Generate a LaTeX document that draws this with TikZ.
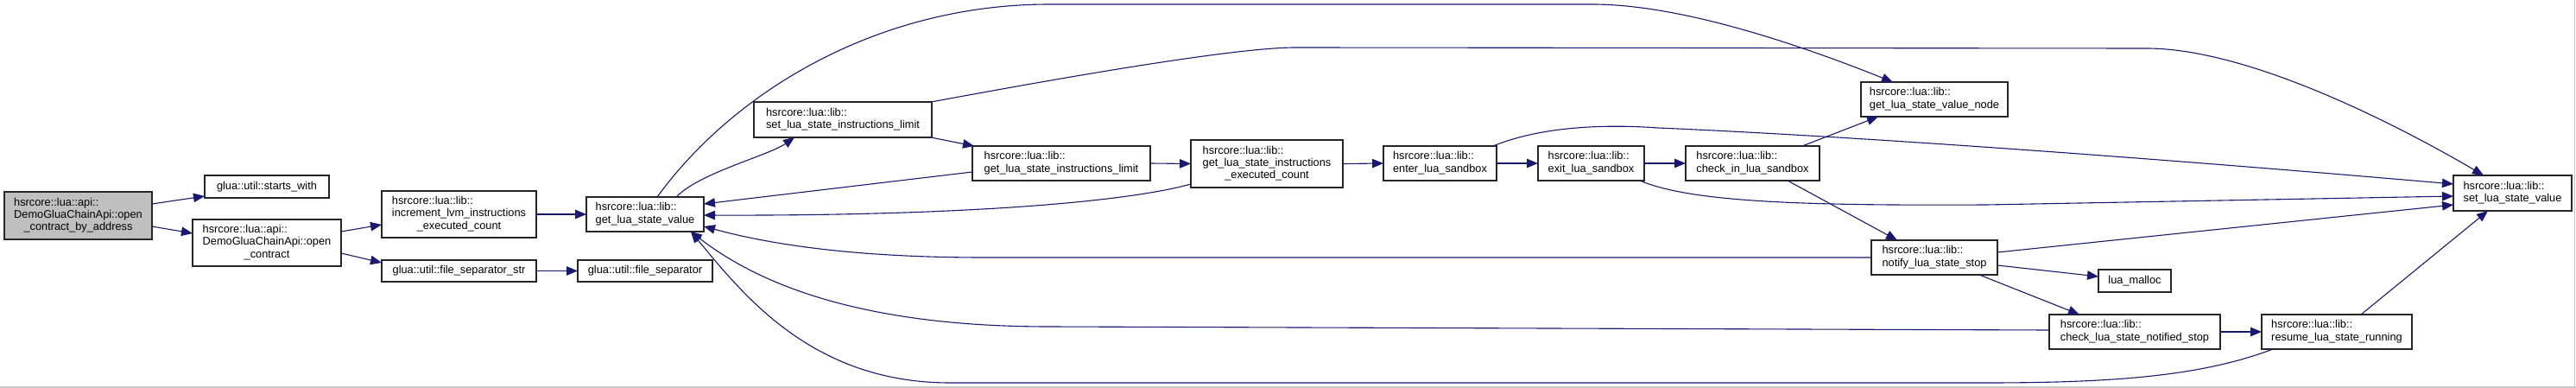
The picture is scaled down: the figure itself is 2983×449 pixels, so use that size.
\documentclass[tikz,border=0pt]{standalone}
\usepackage{fontspec}
\setmainfont{Liberation Sans}
\usetikzlibrary{arrows.meta,calc}
\definecolor{edgeblue}{RGB}{25,25,112}
\definecolor{nodegray}{RGB}{191,191,191}
\definecolor{framegray}{RGB}{200,200,200}
\newcommand{\twol}[2]{\begin{tabular}{@{}l@{}}#1\\#2\end{tabular}}
\newcommand{\threel}[3]{\begin{tabular}{@{}l@{}}#1\\#2\\\multicolumn{1}{@{}c@{}}{#3}\end{tabular}}
\begin{document}
\begin{tikzpicture}[x=1pt,y=-1pt,
  fnbox/.style={draw=black!85, line width=1.3pt, fill=white, rectangle,
    inner sep=0pt, outer sep=0pt, font=\fontsize{12.8}{14.3}\selectfont},
  rootbox/.style={fnbox, fill=nodegray},
  calledge/.style={draw=edgeblue, line width=1.1pt, -{Triangle[length=13pt,width=10.5pt]}},
]
\useasboundingbox[fill=white] (0,0) rectangle (2983,449);
\draw[framegray, line width=1.5pt] (2981.5,0) -- (2981.5,449);
\draw[framegray, line width=1.5pt] (0,448) -- (2983,448);

% nodes
\node[rootbox, minimum width=171, minimum height=55] (A) at (90.5,249.5)
  {\threel{hsrcore::lua::api::}{DemoGluaChainApi::open}{\_contract\_by\_address}};
\node[fnbox, minimum width=144, minimum height=26] (B) at (309,216)
  {glua::util::starts\_with};
\node[fnbox, minimum width=172, minimum height=54] (C) at (309,281)
  {\threel{hsrcore::lua::api::}{DemoGluaChainApi::open}{\_contract}};
\node[fnbox, minimum width=179, minimum height=54] (D) at (531.5,248)
  {\threel{hsrcore::lua::lib::}{increment\_lvm\_instructions}{\_executed\_count}};
\node[fnbox, minimum width=179, minimum height=25] (E) at (531.5,313.5)
  {glua::util::file\_separator\_str};
\node[fnbox, minimum width=136, minimum height=40] (F) at (747,248)
  {\twol{hsrcore::lua::lib::}{get\_lua\_state\_value}};
\node[fnbox, minimum width=156, minimum height=25] (G) at (747,313.5)
  {glua::util::file\_separator};
\node[fnbox, minimum width=206, minimum height=41] (H) at (976,138.5)
  {\twol{hsrcore::lua::lib::}{set\_lua\_state\_instructions\_limit}};
\node[fnbox, minimum width=206, minimum height=40] (I) at (1229,189)
  {\twol{hsrcore::lua::lib::}{get\_lua\_state\_instructions\_limit}};
\node[fnbox, minimum width=176, minimum height=55] (J) at (1467,189.5)
  {\threel{hsrcore::lua::lib::}{get\_lua\_state\_instructions}{\_executed\_count}};
\node[fnbox, minimum width=131, minimum height=40] (K) at (1667.5,189)
  {\twol{hsrcore::lua::lib::}{enter\_lua\_sandbox}};
\node[fnbox, minimum width=123, minimum height=40] (L) at (1842.5,189)
  {\twol{hsrcore::lua::lib::}{exit\_lua\_sandbox}};
\node[fnbox, minimum width=155, minimum height=40] (M) at (2029.5,189)
  {\twol{hsrcore::lua::lib::}{check\_in\_lua\_sandbox}};
\node[fnbox, minimum width=170, minimum height=40] (N) at (2240,115)
  {\twol{hsrcore::lua::lib::}{get\_lua\_state\_value\_node}};
\node[fnbox, minimum width=137, minimum height=41] (O) at (2909.5,223.5)
  {\twol{hsrcore::lua::lib::}{set\_lua\_state\_value}};
\node[fnbox, minimum width=146, minimum height=40] (P) at (2240,298)
  {\twol{hsrcore::lua::lib::}{notify\_lua\_state\_stop}};
\node[fnbox, minimum width=84, minimum height=26] (Q) at (2472,325)
  {lua\_malloc};
\node[fnbox, minimum width=198, minimum height=40] (R) at (2472,384)
  {\twol{hsrcore::lua::lib::}{check\_lua\_state\_notified\_stop}};
\node[fnbox, minimum width=174, minimum height=40] (S) at (2706,384)
  {\twol{hsrcore::lua::lib::}{resume\_lua\_state\_running}};

% edges
\draw[calledge] ($(A.north east)+(0,14)$) -- ($(B.south west)+(0,-2)$);
\draw[calledge] ($(A.north east)+(0,40)$) -- ($(C.north west)+(0,16)$);
\draw[calledge] ($(C.north east)+(0,14)$) -- ($(D.north west)+(0,39)$);
\draw[calledge] ($(C.north east)+(0,39)$) -- ($(E.north west)+(0,3)$);
\draw[calledge] (D.east) -- (F.west);
\draw[calledge] (E.east) -- (G.west);
\draw[calledge] ($(F.north west)+(104,0)$) .. controls (810,200) and (890,180) .. ($(H.south west)+(47,0)$);
\draw[calledge] ($(F.north west)+(82,0)$) .. controls (849,107) and (1015,5) .. (1215,5)
  -- (1844,5) .. controls (1950,5) and (2092,55) .. ($(N.north west)+(37,0)$);
\draw[calledge] ($(H.north east)+(-1,0)$) .. controls (1176,100) and (1420,55) .. (1500,55)
  -- (2486,56) .. controls (2600,56) and (2767,139) .. ($(O.north west)+(35,0)$);
\draw[calledge] ($(H.south east)+(-1,0)$) -- ($(I.north west)+(2,0)$);
\draw[calledge] ($(I.north west)+(0,30)$) -- ($(F.north east)+(0,8)$);
\draw[calledge] (I.east) -- (J.west);
\draw[calledge] ($(J.south west)+(0,-4)$) .. controls (1300,235) and (1100,250) .. ($(F.north east)+(0,21)$);
\draw[calledge] (J.east) -- (K.west);
\draw[calledge] (K.east) -- (L.west);
\draw[calledge] (L.east) -- (M.west);
\draw[calledge] ($(M.north west)+(135,0)$) -- ($(N.south west)+(20,0)$);
\draw[calledge] ($(K.north east)+(-4,0)$) .. controls (1780,148) and (1850,143) .. (1920,148)
  .. controls (2200,160) and (2600,192) .. ($(O.north west)+(0,10)$);
\draw[calledge] ($(L.south east)+(-5,0)$) .. controls (1960,235) and (2100,238) .. (2300,237)
  -- ($(O.north west)+(0,24)$);
\draw[calledge] ($(M.south west)+(118,0)$) -- ($(P.north west)+(30,0)$);
\draw[calledge] ($(P.north east)+(0,14)$) -- ($(O.north west)+(0,34)$);
\draw[calledge] ($(P.north east)+(0,29)$) -- ($(Q.north west)+(0,8)$);
\draw[calledge] ($(P.south west)+(125,0)$) -- ($(R.north west)+(35,0)$);
\draw[calledge] (P.west) -- (1140,298) .. controls (1000,298) and (900,285) .. ($(F.north east)+(0,34)$);
\draw[calledge] (R.east) -- (S.west);
\draw[calledge] ($(R.north west)+(0,18)$) -- (1215,378) .. controls (1000,378) and (880,330) .. ($(F.south west)+(121,0)$);
\draw[calledge] ($(S.south west)+(13,0)$) .. controls (2550,435) and (2450,443) .. (2300,443)
  -- (1100,443) .. controls (940,443) and (860,340) .. ($(F.south west)+(121,0)$);
\draw[calledge] ($(S.north west)+(115,0)$) -- ($(O.south west)+(40,0)$);
\end{tikzpicture}
\end{document}
